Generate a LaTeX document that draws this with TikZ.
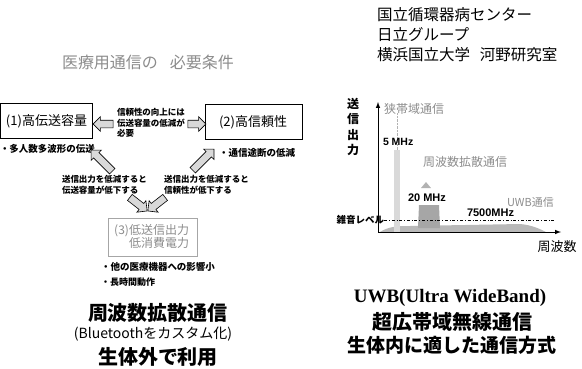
\documentclass[tikz,border=0pt]{standalone}
\usepackage{fontspec}
\setmainfont{Liberation Serif}
\newfontfamily\jp{Noto Sans CJK JP}
\newfontfamily\arl{Liberation Sans}
\usetikzlibrary{shapes.arrows}
\definecolor{lightg}{gray}{0.55}
\begin{document}
\begin{tikzpicture}[x=1pt,y=-1pt,
  jtxt/.style={inner sep=0pt, outer sep=0pt},
  frame/.style={draw, line width=0.9pt, inner sep=0pt},
  fatarrow/.style={single arrow, draw, line width=0.6pt, fill=gray!30, inner xsep=0pt, inner ysep=3.5pt,
     single arrow head extend=3.5pt, minimum height=24pt},
  smalltxt/.style={jtxt, font=\jp\bfseries\fontsize{8.5}{10.5}\selectfont, align=left},
  bullet/.style={jtxt, font=\jp\bfseries\fontsize{9.5}{11}\selectfont, anchor=west},
  bigbold/.style={jtxt, font=\jp\bfseries\fontsize{20}{22}\selectfont},
  chartlbl/.style={jtxt, font=\jp\fontsize{12}{14}\selectfont, text=lightg, anchor=west},
  mhz/.style={jtxt, font=\arl\bfseries\fontsize{10.5}{12}\selectfont, anchor=west}
]
\useasboundingbox (0,0) rectangle (582,368);

% ---------- left: requirements ----------
\node[jtxt, text=lightg, font=\jp\fontsize{16}{18}\selectfont] (title) at (148,62)
  {医療用通信の\hspace{12pt}必要条件};

\node[frame, minimum width=92pt, minimum height=35pt] (b1) at (46.5,120.5) {};
\node[jtxt, font=\jp\fontsize{13}{15}\selectfont] (b1t) at (46.5,121) {(1)高伝送容量};

\node[frame, minimum width=97pt, minimum height=35pt] (b2) at (253.5,121.5) {};
\node[jtxt, font=\jp\fontsize{13}{15}\selectfont, anchor=west] (b2t) at (219,122) {(2)高信頼性};

\node[draw=gray!70, line width=0.7pt, inner sep=0pt, minimum width=89pt, minimum height=38pt] (b3) at (152.5,237.5) {};
\node[jtxt, text=lightg, font=\jp\fontsize{12}{13}\selectfont, align=right, anchor=east] (b3t) at (189,236.5)
  {(3)低送信出力\\低消費電力};

\node[smalltxt, anchor=west] (mid) at (117,123) {信頼性の向上には\\伝送容量の低減が\\必要};
\node[fatarrow, rotate=180, minimum height=20pt] (al) at (105,124) {};
\node[fatarrow, minimum height=18pt] (ar) at (195,124) {};

\node[bullet] (p1) at (0,149) {・多人数多波形の伝送};
\node[bullet] (p2) at (219,153) {・通信途断の低減};

\node[fatarrow, rotate=135, minimum height=30pt] (ul) at (103,162) {};
\node[fatarrow, rotate=45, minimum height=30pt] (ur) at (202,161) {};

\node[smalltxt, anchor=west] (s1) at (62,185) {送信出力を低減すると\\伝送容量が低下する};
\node[smalltxt, anchor=west] (s2) at (164,185) {送信出力を低減すると\\信頼性が低下する};

\node[fatarrow, rotate=-38, minimum height=22pt] (dl) at (137,203) {};
\node[fatarrow, rotate=-142, minimum height=22pt] (dr) at (158,203) {};

\node[bullet] (p3) at (101,267) {・他の医療機器への影響小};
\node[bullet, font=\jp\bfseries\fontsize{9}{11}\selectfont] (p4) at (101,282) {・長時間動作};

\node[bigbold] (l1) at (158,313) {周波数拡散通信};
\node[jtxt, font=\jp\fontsize{14}{16}\selectfont] (l2) at (153,334) {(Bluetoothをカスタム化)};
\node[bigbold] (l3) at (158,357) {生体外で利用};

% ---------- right: UWB ----------
\node[jtxt, anchor=north west, align=left, font=\jp\fontsize{15.5}{20}\selectfont] (org) at (377,7)
  {国立循環器病センター\\日立グループ\\横浜国立大学\hspace{10pt}河野研究室};

\coordinate (O) at (378,232);
\coordinate (Yt) at (378,102);
\coordinate (Xe) at (561,232);

% UWB hump
\fill[gray!55] (380,232) .. controls (388,227) and (395,226) .. (410,226)
  -- (520,224) .. controls (532,225) and (540,229) .. (546,232) -- cycle;
% narrowband spike
\fill[gray!30] (394,150) rectangle (400,232);
\draw[gray!60, densely dotted] (397,113) -- (397,150);
% spread spectrum block
\fill[gray!70] (418,228) -- (419,205) -- (439,205) -- (440,228) -- cycle;
\fill[gray!60] (421,188) -- (426,182) -- (431,188) -- cycle;

\draw[line width=1pt, -latex] (O) -- (Yt);
\draw[line width=1pt, -latex] (O) -- (Xe);
\coordinate (N0) at (384,220);
\coordinate (N1) at (556,220);
\draw[line width=0.6pt, dash dot] (N0) -- (N1);

\node[jtxt, font=\jp\bfseries\fontsize{12}{15.5}\selectfont, align=center] (yl) at (353,127)
  {送\\信\\出\\力};
\node[chartlbl] (nb) at (384,109) {狭帯域通信};
\node[mhz] (m5) at (383,142) {5 MHz};
\node[chartlbl] (ss) at (423,162) {周波数拡散通信};
\node[mhz, font=\arl\bfseries\fontsize{11}{12}\selectfont] (m20) at (408,198) {20 MHz};
\node[chartlbl, font=\jp\fontsize{11}{13}\selectfont] (uwb) at (507,202) {UWB通信};
\node[mhz, font=\arl\bfseries\fontsize{11}{12}\selectfont] (m7500) at (467,213) {7500MHz};
\node[jtxt, font=\jp\bfseries\fontsize{9.5}{11}\selectfont, anchor=east] (noise) at (N0) {雑音レベル};
\node[jtxt, font=\jp\fontsize{13}{15}\selectfont] (fx) at (557,247) {周波数};

\node[jtxt, font=\bfseries\fontsize{19}{21}\selectfont] (r1) at (450,298) {UWB(Ultra WideBand)};
\node[bigbold] (r2) at (452,322) {超広帯域無線通信};
\node[bigbold, font=\jp\bfseries\fontsize{19}{21}\selectfont] (r3) at (452,345) {生体内に適した通信方式};
\end{tikzpicture}
\end{document}
